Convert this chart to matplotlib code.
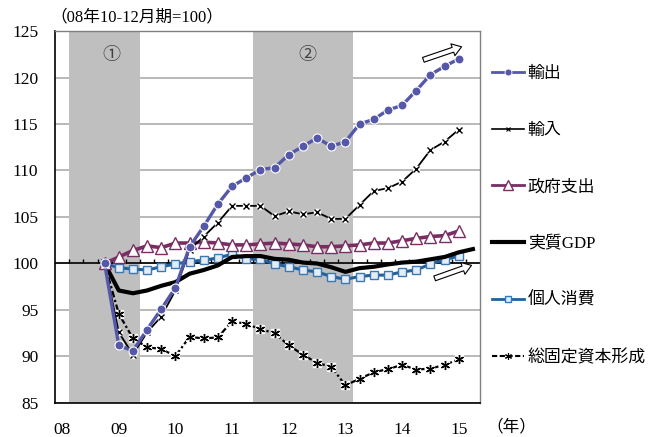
import numpy as np
import matplotlib
matplotlib.use("Agg")
import matplotlib.pyplot as plt
from matplotlib.lines import Line2D

plt.rcParams['font.family'] = ['Liberation Serif', 'Noto Sans CJK JP']

# --- quarterly index, 2008Q4 = 100
year_labels = ["08", "09", "10", "11", "12", "13", "14", "15"]
start = 3  # first plotted quarter (08Q4)

exports = [100, 91.2, 90.6, 92.9, 95.1, 97.4, 101.8, 104.0, 106.4, 108.3, 109.2, 110.1, 110.3,
           111.7, 112.6, 113.5, 112.6, 113.1, 115.0, 115.5, 116.5, 117.0, 118.6, 120.3, 121.2, 122.0]
imports = [100, 92.6, 90.2, 92.6, 94.3, 97.1, 101.5, 102.9, 104.4, 106.2, 106.2, 106.2, 105.1,
           105.6, 105.3, 105.5, 104.8, 104.8, 106.3, 107.8, 108.1, 108.8, 110.2, 112.2, 113.1, 114.4]
government = [100, 100.7, 101.4, 101.9, 101.7, 102.2, 102.2, 102.3, 102.2, 102.0, 102.0, 102.1, 102.2,
              102.1, 102.0, 101.8, 101.8, 101.9, 102.0, 102.2, 102.2, 102.45, 102.7, 102.9, 103.0, 103.5]
gdp = [100, 97.1, 96.8, 97.1, 97.6, 98.0, 98.9, 99.3, 99.8, 100.7, 100.8, 100.8, 100.5,
       100.4, 100.1, 100.0, 99.6, 99.1, 99.5, 99.65, 99.9, 100.1, 100.2, 100.45, 100.7, 101.2, 101.55]
consumption = [100, 99.55, 99.4, 99.3, 99.65, 99.95, 100.2, 100.35, 100.6, 101.0, 100.5, 100.45, 99.95,
               99.65, 99.3, 99.1, 98.6, 98.3, 98.6, 98.75, 98.75, 99.1, 99.3, 99.95, 100.4, 100.8]
gfcf = [100, 94.6, 91.95, 91.0, 90.8, 90.05, 92.1, 91.95, 92.05, 93.8, 93.5, 92.95, 92.5,
        91.2, 90.2, 89.3, 88.9, 86.9, 87.6, 88.3, 88.65, 89.1, 88.6, 88.7, 89.1, 89.7]

# recession periods (quarter index spans)
shaded = [(0.5, 5.5, "①"), (13.5, 20.5, "②")]

n_quarters = 30
c_exp = "#5558A8"
c_gov = "#7A2D62"
c_con = "#24609A"

fig = plt.figure(figsize=(6.56, 4.37), dpi=100)
ax = fig.add_axes([55 / 656, 1 - 403 / 437, 425 / 656, 372 / 437])

def xs(series):
    return np.arange(start, start + len(series))

for x0, x1, tag in shaded:
    ax.axvspan(x0, x1, color="#BFBFBF", lw=0, zorder=1)
ax.text(3.5, 122.4, shaded[0][2], ha="center", va="center", fontsize=13, color="#404040", zorder=2)
ax.text(17.3, 122.4, shaded[1][2], ha="center", va="center", fontsize=13, color="#404040", zorder=2)

ax.set_axisbelow(True)
ax.yaxis.grid(True, color="#B3B3B3", lw=1.3)

# axis crossing at 100 with quarter ticks
ax.axhline(100, color="black", lw=1.2, zorder=2)
ax.vlines(np.arange(0.5, 29, 1), 100, 100.45, color="black", lw=1, zorder=2)

# GFCF: dash-dot line, white boxes, asterisk markers
ax.plot(xs(gfcf), gfcf, color="black", lw=1.6, dashes=[3, 1.2, 1, 1.2], zorder=3)
ax.plot(xs(gfcf), gfcf, ls="none", marker="s", ms=6, mfc="white", mec="white", zorder=3.1)
ax.plot(xs(gfcf), gfcf, ls="none", marker=(6, 2, 0), ms=6.5, mec="black", mew=1, zorder=3.2)

ax.plot(xs(consumption), consumption, color=c_con, lw=2.2, marker="s", ms=6,
        mfc="#E4ECF5", mec="#3A78B5", mew=1, zorder=4)
ax.plot(xs(gdp), gdp, color="black", lw=3, zorder=5)
ax.plot(xs(government), government, color=c_gov, lw=2.6, marker="^", ms=8.5,
        mfc="white", mec=c_gov, mew=1, zorder=6)

ax.plot(xs(imports), imports, color="black", lw=1.3, zorder=7)
ax.plot(xs(imports), imports, ls="none", marker="s", ms=5, mfc="white", mec="white", zorder=7.1)
ax.plot(xs(imports), imports, ls="none", marker="x", ms=4.5, mec="black", mew=1, zorder=7.2)

ax.plot(xs(exports), exports, color=c_exp, lw=2.4, marker="o", ms=6.5,
        mfc=c_exp, mec="white", mew=0.8, zorder=8)

# outline arrows
arrow_kw = dict(arrowstyle="simple,head_length=0.55,head_width=0.75,tail_width=0.3",
                fc="white", ec="black", lw=0.8, shrinkA=0, shrinkB=0, mutation_scale=12)
ax.annotate("", xy=(28.2, 123.3), xytext=(25.5, 121.9), arrowprops=arrow_kw, zorder=9)
ax.annotate("", xy=(28.9, 99.8), xytext=(26.3, 98.4), arrowprops=arrow_kw, zorder=9)

ax.set_xlim(-0.5, n_quarters - 0.5)
ax.set_ylim(85, 125)
ax.set_xticks(range(0, 29, 4))
ax.set_xticklabels(year_labels)
ax.set_yticks(range(85, 126, 5))
ax.tick_params(axis="x", length=0, pad=14, labelsize=12.5)
ax.tick_params(axis="y", length=0, pad=12, labelsize=12.5)

for side in ["left", "bottom"]:
    ax.spines[side].set_color("black")
    ax.spines[side].set_linewidth(1.2)
for side in ["top", "right"]:
    ax.spines[side].set_color("#808080")
    ax.spines[side].set_linewidth(1)

fig.text(50 / 656, 1 - 17 / 437, "（08年10-12月期=100）", ha="left", va="center", fontsize=12)
fig.text(511 / 656, 1 - 427 / 437, "（年）", ha="center", va="center", fontsize=12)

handles = [
    Line2D([], [], color=c_exp, lw=2, marker="o", ms=5, mfc=c_exp, mec="white", mew=0.6),
    Line2D([], [], color="black", lw=1.2, marker="x", ms=3.5, mec="black", mew=0.8),
    Line2D([], [], color=c_gov, lw=2, marker="^", ms=6.5, mfc="white", mec=c_gov, mew=1),
    Line2D([], [], color="black", lw=3),
    Line2D([], [], color=c_con, lw=2, marker="s", ms=5, mfc="#E4ECF5", mec="#3A78B5", mew=1),
    Line2D([], [], color="black", lw=1.5, dashes=[2.5, 1.2], marker=(6, 2, 0), ms=5, mew=0.8),
]
labels = ["輸出", "輸入", "政府支出", "実質GDP", "個人消費", "総固定資本形成"]
ax.legend(handles, labels, loc="upper left", bbox_to_anchor=(492 / 656, 1 - 66 / 437),
          bbox_transform=fig.transFigure, frameon=False, fontsize=12.2,
          labelspacing=2.4, handlelength=1.9, handletextpad=0.2,
          borderpad=0, borderaxespad=0)

fig.savefig("out.png", dpi=100)
